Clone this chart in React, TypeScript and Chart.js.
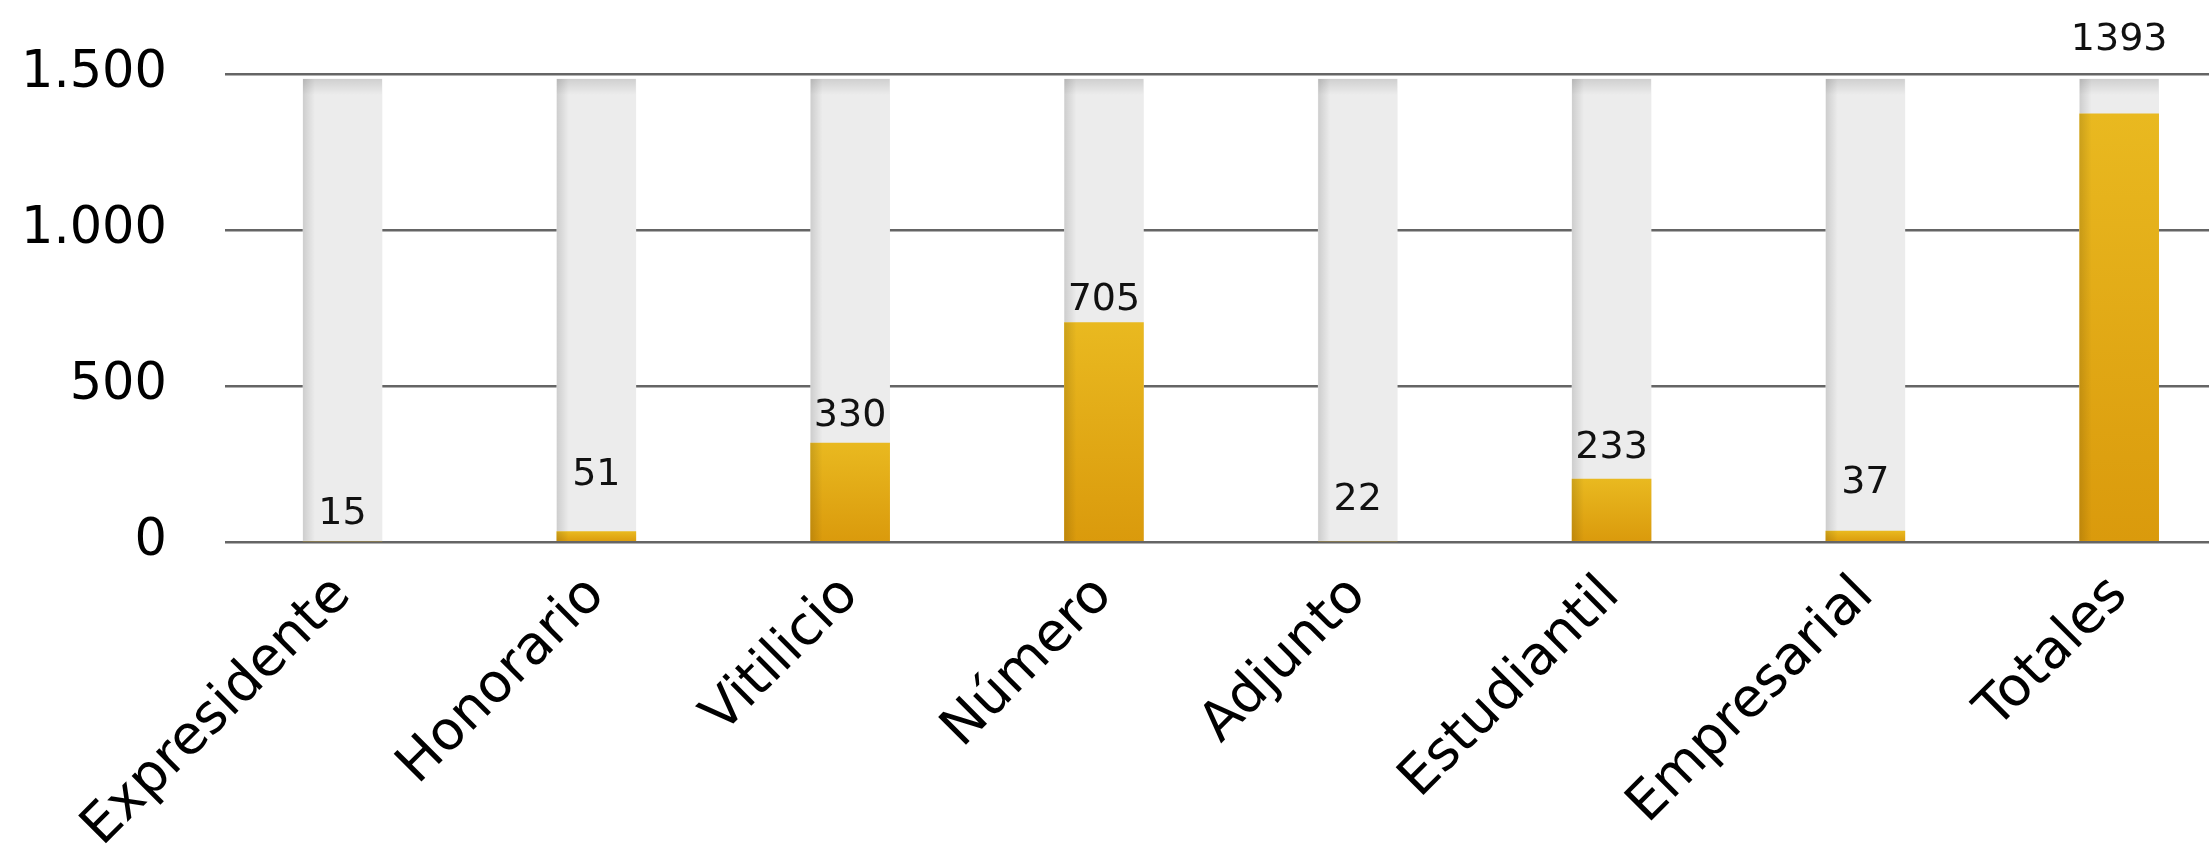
import React, { useEffect, useRef } from "react";
import { Chart, registerables } from "chart.js";

Chart.register(...registerables);

const categories = ["Expresidente", "Honorario", "Vitilicio", "Número", "Adjunto", "Estudiantil", "Empresarial", "Totales"];
const barValues = [0, 33, 317, 703, 0, 202, 35, 1372];
const backgroundValues = [1484, 1484, 1484, 1484, 1484, 1484, 1484, 1484];
const labelTexts = ["15", "51", "330", "705", "22", "233", "37", "1393"];
const labelAnchors = [90, 215, 404, 776, 135, 301, 189, 1609];
const yTickValues = [0, 500, 1000, 1500];

const FONT = '"DejaVu Sans", "Noto Sans", sans-serif';

const fmt = (v: number) => String(v).replace(/\B(?=(\d{3})+(?!\d))/g, ".");

const shadePlugin = {
  id: "shade",
  afterDatasetDraw(chart: any, args: any) {
    const meta = args.meta;
    const ctx = chart.ctx;
    ctx.save();
    meta.data.forEach((el: any) => {
      const { x, y, base, width } = el.getProps(["x", "y", "base", "width"], true);
      const h = base - y;
      if (h < 1) return;
      const left = x - width / 2;
      const g = ctx.createLinearGradient(left, 0, left + 12, 0);
      g.addColorStop(0, "rgba(0,0,0,0.13)");
      g.addColorStop(1, "rgba(0,0,0,0)");
      ctx.fillStyle = g;
      ctx.fillRect(left, y, 12, h);
      if (args.index === 1) {
        const gt = ctx.createLinearGradient(0, y, 0, y + 16);
        gt.addColorStop(0, "rgba(0,0,0,0.12)");
        gt.addColorStop(1, "rgba(0,0,0,0)");
        ctx.fillStyle = gt;
        ctx.fillRect(left, y, width, 16);
      }
    });
    ctx.restore();
  },
};

const labelPlugin = {
  id: "valueLabels",
  afterDraw(chart: any) {
    const ctx = chart.ctx;
    const meta = chart.getDatasetMeta(0);
    const ys = chart.scales.y;
    ctx.save();
    ctx.font = `38px ${FONT}`;
    ctx.fillStyle = "#111111";
    ctx.textAlign = "center";
    ctx.textBaseline = "middle";
    meta.data.forEach((el: any, i: number) => {
      ctx.fillText(labelTexts[i], el.x, ys.getPixelForValue(labelAnchors[i]));
    });
    ctx.restore();
  },
};

export default function App() {
  const ref = useRef<HTMLCanvasElement | null>(null);
  useEffect(() => {
    if (!ref.current) return;
    const chart = new Chart(ref.current, {
      type: "bar",
      data: {
        datasets: [
          {
            label: "Valor",
            data: categories.map((_, i) => ({ x: i, y: barValues[i] })),
            backgroundColor: (c: any) => {
              const ch = c.chart;
              if (!ch.chartArea || c.type !== "data") return "#E3AA15";
              const ys = ch.scales.y;
              const top = ys.getPixelForValue(c.raw.y);
              const base = ys.getPixelForValue(0);
              if (!isFinite(top) || base - top < 1) return "#E9B820";
              const g = ch.ctx.createLinearGradient(0, top, 0, base);
              g.addColorStop(0, "#E9B920");
              g.addColorStop(1, "#DA9A0C");
              return g;
            },
            borderWidth: 0,
            barThickness: 79,
            grouped: false,
          } as any,
          {
            label: "Fondo",
            data: categories.map((_, i) => ({ x: i, y: backgroundValues[i] })),
            backgroundColor: "#ECECEC",
            borderWidth: 0,
            barThickness: 79,
            grouped: false,
          } as any,
        ],
      },
      options: {
        responsive: false,
        animation: false,
        layout: { padding: { top: 74, left: 0, right: 0, bottom: 0 } },
        plugins: { legend: { display: false }, tooltip: { enabled: false } },
        scales: {
          x: {
            type: "linear",
            offset: false,
            min: -0.463,
            max: 7.354,
            grid: { display: false },
            border: { display: false },
            afterBuildTicks: (s: any) => {
              s.ticks = categories.map((_, i) => ({ value: i }));
            },
            afterFit: (s: any) => {
              s.height = 308;
            },
            ticks: {
              autoSkip: false,
              minRotation: 45,
              maxRotation: 45,
              padding: 14,
              color: "#000000",
              font: { family: FONT, size: 54 },
              callback: (v: any) => categories[Math.round(Number(v))] ?? "",
            },
          },
          y: {
            min: 0,
            max: 1500,
            afterBuildTicks: (s: any) => {
              s.ticks = yTickValues.map((v) => ({ value: v }));
            },
            afterFit: (s: any) => {
              s.width = 225;
              s.paddingTop = 0;
              s.paddingBottom = 0;
            },
            grid: { color: "#656565", lineWidth: 2.5, drawTicks: false },
            border: { display: false },
            ticks: {
              padding: 58,
              color: "#000000",
              font: { family: FONT, size: 51 },
              callback: (v: any) => fmt(Number(v)),
            },
          },
        },
      },
      plugins: [shadePlugin, labelPlugin],
    } as any);
    return () => chart.destroy();
  }, []);
  return (
    <div style={{ position: "absolute", left: 0, top: 0, width: 2209, height: 850, background: "#ffffff" }}>
      <canvas ref={ref} width={2209} height={850} style={{ display: "block" }} />
    </div>
  );
}
